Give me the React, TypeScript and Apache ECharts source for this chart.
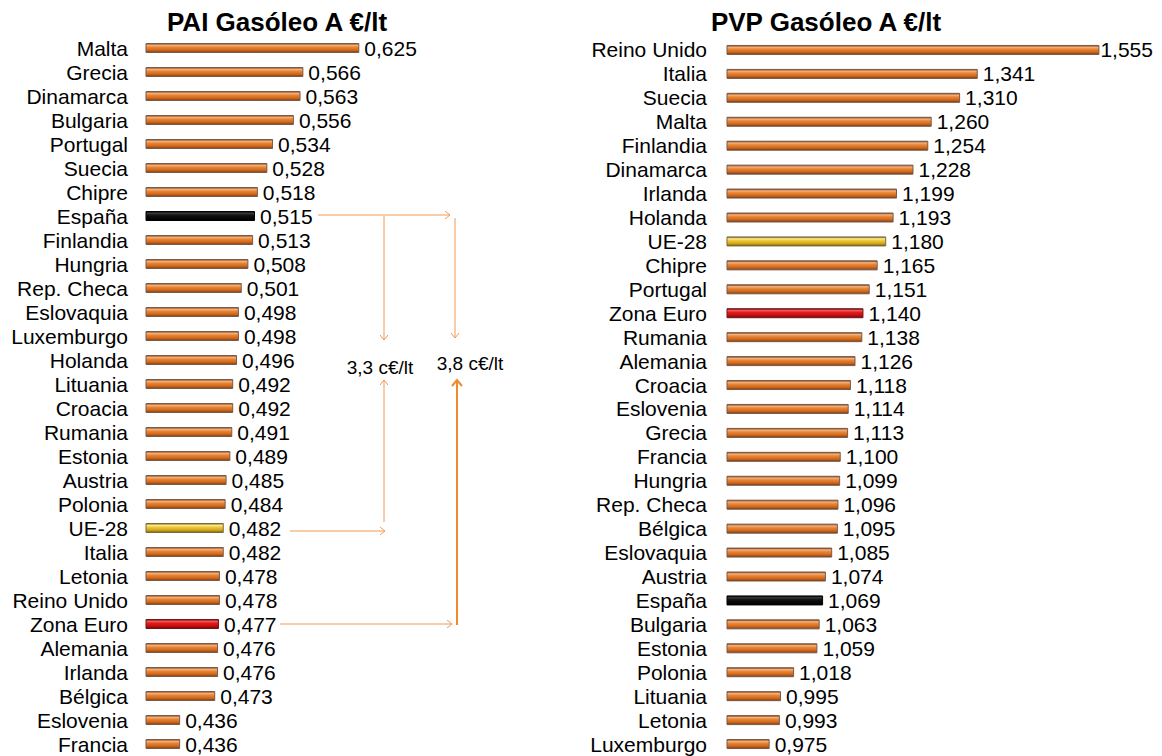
import React, { useEffect, useRef } from "react";
import * as echarts from "echarts";

const paiCountries = [
  "Malta", "Grecia", "Dinamarca", "Bulgaria", "Portugal", "Suecia", "Chipre", "España",
  "Finlandia", "Hungria", "Rep. Checa", "Eslovaquia", "Luxemburgo", "Holanda", "Lituania",
  "Croacia", "Rumania", "Estonia", "Austria", "Polonia", "UE-28", "Italia", "Letonia",
  "Reino Unido", "Zona Euro", "Alemania", "Irlanda", "Bélgica", "Eslovenia", "Francia",
];
const paiValues = [
  0.625, 0.566, 0.563, 0.556, 0.534, 0.528, 0.518, 0.515, 0.513, 0.508, 0.501, 0.498,
  0.498, 0.496, 0.492, 0.492, 0.491, 0.489, 0.485, 0.484, 0.482, 0.482, 0.478, 0.478,
  0.477, 0.476, 0.476, 0.473, 0.436, 0.436,
];

const pvpCountries = [
  "Reino Unido", "Italia", "Suecia", "Malta", "Finlandia", "Dinamarca", "Irlanda", "Holanda",
  "UE-28", "Chipre", "Portugal", "Zona Euro", "Rumania", "Alemania", "Croacia", "Eslovenia",
  "Grecia", "Francia", "Hungria", "Rep. Checa", "Bélgica", "Eslovaquia", "Austria", "España",
  "Bulgaria", "Estonia", "Polonia", "Lituania", "Letonia", "Luxemburgo",
];
const pvpValues = [
  1.555, 1.341, 1.31, 1.26, 1.254, 1.228, 1.199, 1.193, 1.18, 1.165, 1.151, 1.14, 1.138,
  1.126, 1.118, 1.114, 1.113, 1.1, 1.099, 1.096, 1.095, 1.085, 1.074, 1.069, 1.063, 1.059,
  1.018, 0.995, 0.993, 0.975,
];

const titles = ["PAI Gasóleo A €/lt", "PVP Gasóleo A €/lt"];
const noteLabels = ["3,3 c€/lt", "3,8 c€/lt"];

const FONT = "'Liberation Sans', Arial, sans-serif";

const grad = (stops: string[]) => ({
  type: "linear",
  x: 0,
  y: 0,
  x2: 0,
  y2: 1,
  colorStops: stops.map((c, i) => ({ offset: i / (stops.length - 1), color: c })),
});

const ORANGE = grad(["#7a3c12", "#f4b27c", "#e8873a", "#dc7424", "#c2601a", "#6e3510"]);
const YELLOW = grad(["#7d6410", "#fbeb94", "#eccb3c", "#deb624", "#c49a18", "#6e5610"]);
const RED = grad(["#6e0808", "#f25a5a", "#e21c1c", "#d41212", "#b80c0c", "#600606"]);
const BLACK = grad(["#000000", "#3a3a3a", "#141414", "#0a0a0a", "#050505", "#000000"]);

function barStyle(name: string) {
  if (name === "España") return { color: BLACK, borderColor: "#000", borderWidth: 1 };
  if (name === "UE-28") return { color: YELLOW, borderColor: "#7a6a3a", borderWidth: 1 };
  if (name === "Zona Euro") return { color: RED, borderColor: "#6a1a1a", borderWidth: 1 };
  return { color: ORANGE, borderColor: "#7a5a48", borderWidth: 1 };
}

const fmt = (v: number) => v.toFixed(3).replace(".", ",");

export default function App() {
  const ref = useRef<HTMLDivElement>(null);
  useEffect(() => {
    if (!ref.current) return;
    const chart = echarts.init(ref.current, null, { renderer: "svg" });
    const arrowColor = "#f39a52";
    const thick = "#ef8a2e";
    const line = (x1: number, y1: number, x2: number, y2: number, c = arrowColor, w = 1) => ({
      type: "line",
      shape: { x1, y1, x2, y2 },
      style: { stroke: c, lineWidth: w },
      silent: true,
    });
    const head = (pts: number[][], c = arrowColor, w = 1) => ({
      type: "polyline",
      shape: { points: pts },
      style: { stroke: c, lineWidth: w, fill: null },
      silent: true,
    });
    const txt = (x: number, y: number, text: string, font: string) => ({
      type: "text",
      x,
      y,
      style: {
        text,
        font,
        fill: "#000",
        textAlign: "center",
        textVerticalAlign: "middle",
        align: "center",
        verticalAlign: "middle",
      },
    });
    const option: any = {
      animation: false,
      backgroundColor: "#ffffff",
      grid: [
        { left: 146, width: 237, top: 36, height: 720, containLabel: false },
        { left: 727, width: 398, top: 38, height: 718, containLabel: false },
      ],
      xAxis: [
        { type: "value", gridIndex: 0, min: 0.4, max: 0.65, show: false },
        { type: "value", gridIndex: 1, min: 0.9, max: 1.6, show: false },
      ],
      yAxis: [
        {
          type: "category",
          gridIndex: 0,
          data: paiCountries,
          inverse: true,
          axisLine: { show: false },
          axisTick: { show: false },
          axisLabel: { color: "#000", fontSize: 21, fontFamily: FONT, margin: 18, interval: 0 },
        },
        {
          type: "category",
          gridIndex: 1,
          data: pvpCountries,
          inverse: true,
          axisLine: { show: false },
          axisTick: { show: false },
          axisLabel: { color: "#000", fontSize: 21, fontFamily: FONT, margin: 20, interval: 0 },
        },
      ],
      series: [
        {
          type: "bar",
          xAxisIndex: 0,
          yAxisIndex: 0,
          barWidth: 10,
          data: paiValues.map((v, i) => ({ value: v, itemStyle: barStyle(paiCountries[i]) })),
          label: {
            show: true,
            position: "right",
            distance: 5,
            color: "#000",
            fontSize: 21,
            fontFamily: FONT,
            formatter: (p: any) => fmt(p.value),
          },
        },
        {
          type: "bar",
          xAxisIndex: 1,
          yAxisIndex: 1,
          barWidth: 10,
          data: pvpValues.map((v, i) => ({
            value: v,
            itemStyle: barStyle(pvpCountries[i]),
            ...(i === 0 ? { label: { distance: 1 } } : {}),
          })),
          label: {
            show: true,
            position: "right",
            distance: 5,
            color: "#000",
            fontSize: 21,
            fontFamily: FONT,
            formatter: (p: any) => fmt(p.value),
          },
        },
      ],
      graphic: [
        txt(277, 22, titles[0], `bold 26px ${FONT}`),
        txt(826, 22, titles[1], `bold 26px ${FONT}`),
        txt(380, 367, noteLabels[0], `19px ${FONT}`),
        txt(470, 363, noteLabels[1], `19px ${FONT}`),
        // España -> right
        line(318, 215, 450, 215),
        head([[445, 211], [450, 215], [445, 219]]),
        // down arrows
        line(384, 216, 384, 340),
        head([[380, 335], [384, 340], [388, 335]]),
        line(455, 218, 455, 338),
        head([[451, 333], [455, 338], [459, 333]]),
        // up arrow for UE-28
        line(384, 522, 384, 380),
        head([[380, 385], [384, 380], [388, 385]]),
        line(290, 531, 385, 531),
        head([[380, 527], [385, 531], [380, 535]]),
        // Zona Euro
        line(280, 624, 452, 624),
        head([[447, 620], [452, 624], [447, 628]]),
        line(457, 625, 457, 380, thick, 2),
        head([[452, 386], [457, 380], [462, 386]], thick, 2),
      ],
    };
    chart.setOption(option);
    return () => chart.dispose();
  }, []);
  return (
    <div
      ref={ref}
      style={{ position: "fixed", left: 0, top: 0, width: 1162, height: 756, background: "#fff" }}
    />
  );
}
